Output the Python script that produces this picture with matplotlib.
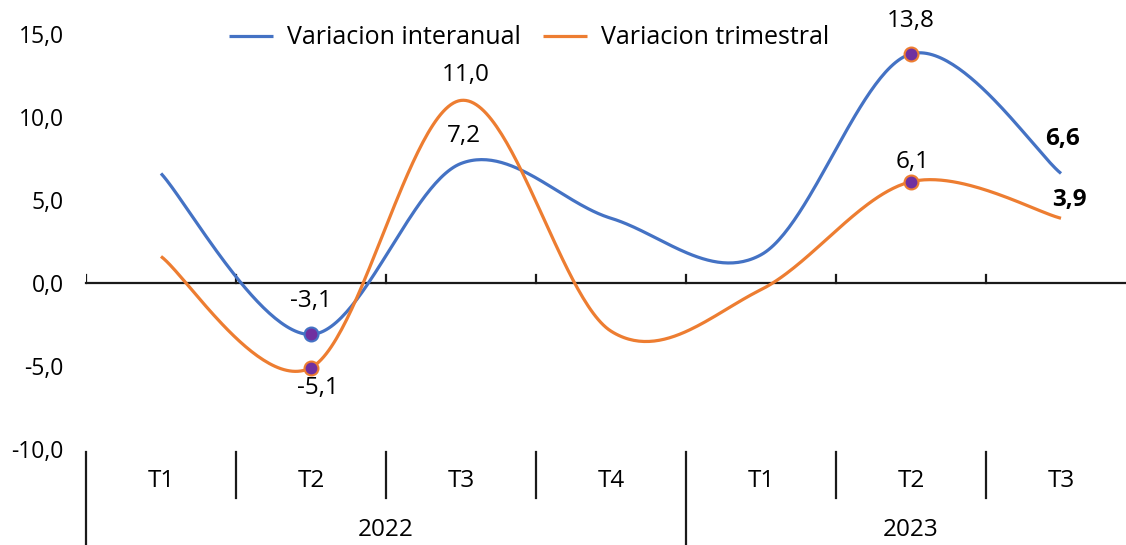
import numpy as np
import matplotlib
matplotlib.use("Agg")
import matplotlib.pyplot as plt

# ---- data ----
categories = ["T1", "T2", "T3", "T4", "T1", "T2", "T3"]
years = ["2022", "2023"]
year_first = [0, 4]
year_last = [3, 6]
interanual = [6.6, -3.1, 7.2, 3.9, 1.7, 13.8, 6.6]
trimestral = [1.6, -5.1, 11.0, -2.9, -0.4, 6.1, 3.9]
series_names = ["Variacion interanual", "Variacion trimestral"]
yticks = [-10, -5, 0, 5, 10, 15]

BLUE = "#4472C4"
ORANGE = "#ED7D31"
PURPLE = "#7030A0"
FONT = "Open Sans"
FS_TICK = 16.5
FS = 17.5
FS_LEG = 18

plt.rcParams["font.family"] = [FONT, "DejaVu Sans"]

W, H = 1126, 545
fig = plt.figure(figsize=(W / 100, H / 100), dpi=100)

# pixel geometry of reference
x_left_px = 86
cat_w = 150
y0_px = 283
ppu = 16.6  # px per unit

ax = fig.add_axes([x_left_px / W, 0, 1 - x_left_px / W, 1])
ax.set_xlim(-0.5, -0.5 + (W - x_left_px) / cat_w)
ax.set_ylim((y0_px - H) / ppu, y0_px / ppu)
for s in ax.spines.values():
    s.set_visible(False)
ax.set_xticks([])
ax.set_yticks(yticks)
ax.set_yticklabels([f"{v:.1f}".replace(".", ",") for v in yticks], fontsize=FS_TICK)
ax.tick_params(axis="y", length=0, pad=16)


def smooth(xv, yv, n=60):
    xv = np.asarray(xv, float)
    yv = np.asarray(yv, float)
    px = np.concatenate([[xv[0]], xv, [xv[-1]]])
    py = np.concatenate([[yv[0]], yv, [yv[-1]]])
    t = np.linspace(0, 1, n)
    xs, ys = [], []
    for i in range(1, len(px) - 2):
        ax0, ax1, ax2, ax3 = px[i - 1], px[i], px[i + 1], px[i + 2]
        ay0, ay1, ay2, ay3 = py[i - 1], py[i], py[i + 1], py[i + 2]
        cx1 = ax1 + (ax2 - ax0) / 6
        cx2 = ax2 - (ax3 - ax1) / 6
        cy1 = ay1 + (ay2 - ay0) / 6
        cy2 = ay2 - (ay3 - ay1) / 6
        b0 = (1 - t) ** 3
        b1 = 3 * (1 - t) ** 2 * t
        b2 = 3 * (1 - t) * t ** 2
        b3 = t ** 3
        xs.append(b0 * ax1 + b1 * cx1 + b2 * cx2 + b3 * ax2)
        ys.append(b0 * ay1 + b1 * cy1 + b2 * cy2 + b3 * ay2)
    return np.concatenate(xs), np.concatenate(ys)


xidx = np.arange(len(categories))

# zero axis line and boundary ticks
ax.plot([-0.5, 7], [0, 0], color="#1a1a1a", lw=1.6, zorder=2, clip_on=False)
tick_h = 8 / ppu
for k in range(len(categories)):
    ax.plot([k - 0.5, k - 0.5], [0, tick_h], color="#1a1a1a", lw=1.6, zorder=2)

# series
sx, sy = smooth(xidx, interanual)
ax.plot(sx, sy, color=BLUE, lw=2.3, label=series_names[0], zorder=3,
        solid_capstyle="butt")
sx, sy = smooth(xidx, trimestral)
ax.plot(sx, sy, color=ORANGE, lw=2.3, label=series_names[1], zorder=3,
        solid_capstyle="butt")

# markers
marked = [(1, interanual, BLUE), (1, trimestral, ORANGE),
          (5, interanual, ORANGE), (5, trimestral, ORANGE)]
for i, ser, ec in marked:
    ax.plot(xidx[i], ser[i], "o", ms=10, mfc=PURPLE, mec=ec, mew=1.5, zorder=4)


def fmt(v):
    return f"{v:.1f}".replace(".", ",")


# data labels: (index, series, dx px, dy px, bold)
labels = [
    (1, interanual, 0, 33, False),
    (1, trimestral, 7, -20, False),
    (2, interanual, 3, 27, False),
    (2, trimestral, 5, 25, False),
    (5, interanual, 0, 33, False),
    (5, trimestral, 2, 20, False),
    (6, interanual, 1, 34, True),
    (6, trimestral, 8, 18, True),
]
for i, ser, dx, dy, bold in labels:
    ax.annotate(fmt(ser[i]), (xidx[i], ser[i]), xytext=(dx * 0.72, dy * 0.72),
                textcoords="offset points", ha="center", va="center",
                fontsize=FS, fontweight="bold" if bold else "normal",
                color="black", zorder=5)

# category axis area
top_sep = (y0_px - 452) / ppu
mid_sep = (y0_px - 498) / ppu
bottom = (y0_px - H) / ppu
for k in range(len(categories)):
    xb = k - 0.5
    if k in year_first:
        ax.plot([xb, xb], [top_sep, bottom], color="#1a1a1a", lw=1.6, clip_on=False)
    else:
        ax.plot([xb, xb], [top_sep, mid_sep], color="#1a1a1a", lw=1.6)
for i, c in enumerate(categories):
    ax.text(i, (y0_px - 481) / ppu, c, ha="center", va="center", fontsize=FS)
for yr, a, b in zip(years, year_first, year_last):
    ax.text((a + b) / 2, (y0_px - 530) / ppu, yr, ha="center", va="center",
            fontsize=FS)

# legend
fig.legend(loc="center", bbox_to_anchor=(529 / W, 1 - 38 / H), ncol=2,
           frameon=False, fontsize=FS_LEG, handlelength=1.75, handletextpad=0.55,
           columnspacing=0.9, borderpad=0)

fig.savefig("out.png", dpi=100, facecolor="white")
